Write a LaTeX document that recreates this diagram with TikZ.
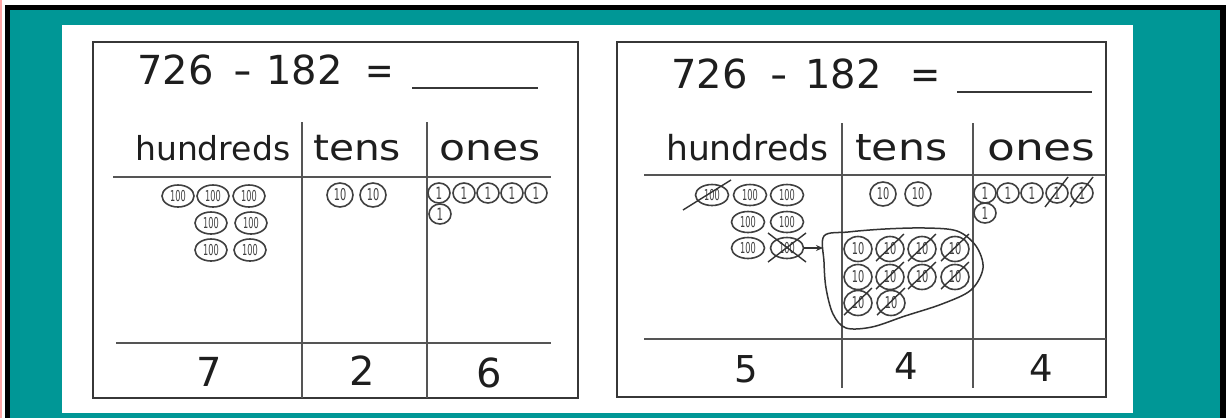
\documentclass[tikz,border=0pt]{standalone}
\usepackage{fontspec}
\usepackage{graphicx}
\setmainfont{DejaVu Sans}
\usetikzlibrary{shapes.geometric,arrows.meta}
\definecolor{teal0}{RGB}{0,151,150}
\definecolor{ink}{RGB}{30,30,30}
\definecolor{rule}{RGB}{55,55,55}
\tikzset{
 eqtxt/.style={anchor=base west, inner sep=0pt, text=ink, font=\fontsize{40}{40}\selectfont},
 hdr/.style={anchor=base west, inner sep=0pt, text=ink},
 digit/.style={anchor=base, inner sep=0pt, text=ink, font=\fontsize{40}{40}\selectfont},
 frame/.style={draw=rule, line width=2.6pt},
 divider/.style={draw=rule!85, line width=2.3pt},
 tok/.style={ellipse, draw=black!75, line width=1.6pt, inner sep=0pt, text=black!75},
 hund/.style={tok, minimum width=32pt, minimum height=22pt, font=\fontsize{12}{12}\selectfont},
 tenc/.style={tok, minimum width=26pt, minimum height=24pt, font=\fontsize{13}{13}\selectfont},
 onec/.style={tok, minimum width=22pt, minimum height=20pt, font=\fontsize{13}{13}\selectfont},
 cross/.style={draw=black!80, line width=1.4pt},
}
\newcommand{\hundl}{\scalebox{0.68}[1.25]{100}}
\newcommand{\tensl}{\scalebox{0.75}[1.25]{10}}
\newcommand{\onel}{\scalebox{0.8}[1.3]{1}}
\begin{document}
\begin{tikzpicture}[x=1pt,y=-1pt]
\useasboundingbox (0,0) rectangle (1226,418);
% background frame
\fill[white] (0,0) rectangle (1226,418);
\fill[red!35] (0,0) rectangle (1.5,418);
\fill[black] (5,5) rectangle (1226,418);
\fill[teal0] (10,10) rectangle (1220,418);
\fill[white] (62,25) rectangle (1133,413);

% ================= left chart =================
\draw[frame] (93,42) rectangle (578,398);
\node[eqtxt] (leqa) at (137,84) {726};
\node[eqtxt] (leqb) at (233,84) {\scalebox{1.3}[1]{-}};
\node[eqtxt] (leqc) at (266,84) {182};
\node[eqtxt] (leqd) at (365,84) {\scalebox{0.85}[1]{=}};
\draw[line width=2.4pt, rule] (412,88) -- (538,88);
\node[hdr, font=\fontsize{33}{33}\selectfont] (lhd) at (135,160) {hundreds};
\node[hdr, font=\fontsize{36}{36}\selectfont] (ltn) at (313,160) {\scalebox{1.13}[1]{tens}};
\node[hdr, font=\fontsize{36}{36}\selectfont] (lon) at (439,160) {\scalebox{1.18}[1]{ones}};
\draw[divider] (302,122) -- (302,398);
\draw[divider] (427,122) -- (427,398);
\draw[divider] (113,177) -- (551,177);
\draw[divider] (116,343) -- (551,343);
\node[digit] (ld1) at (209,386) {7};
\node[digit] (ld2) at (362,385) {2};
\node[digit] (ld3) at (489,387) {6};
% hundreds tokens
\node[hund] (lh1) at (178,196) {\hundl};
\node[hund] (lh2) at (213,196) {\hundl};
\node[hund] (lh3) at (249,196) {\hundl};
\node[hund] (lh4) at (211,223) {\hundl};
\node[hund] (lh5) at (251,223) {\hundl};
\node[hund] (lh6) at (211,250) {\hundl};
\node[hund] (lh7) at (250,250) {\hundl};
% tens tokens
\node[tenc] (lt1) at (340,195) {\tensl};
\node[tenc] (lt2) at (373,195) {\tensl};
% ones tokens
\node[onec] (lo1) at (439,193) {\onel};
\node[onec] (lo2) at (464,193) {\onel};
\node[onec] (lo3) at (488,193) {\onel};
\node[onec] (lo4) at (512,193) {\onel};
\node[onec] (lo5) at (536,193) {\onel};
\node[onec] (lo6) at (440,214) {\onel};

% ================= right chart =================
\draw[frame] (617,42) rectangle (1106,397);
\node[eqtxt] (reqa) at (671,88) {726};
\node[eqtxt] (reqb) at (770,88) {\scalebox{1.2}[1]{-}};
\node[eqtxt] (reqc) at (805,88) {182};
\node[eqtxt] (reqd) at (910,88) {\scalebox{0.9}[1]{=}};
\draw[line width=2.4pt, rule] (957,92) -- (1092,92);
\node[hdr, font=\fontsize{34.5}{34.5}\selectfont] (rhd) at (666,160) {hundreds};
\node[hdr, font=\fontsize{37}{37}\selectfont] (rtn) at (855,160) {\scalebox{1.15}[1]{tens}};
\node[hdr, font=\fontsize{37}{37}\selectfont] (ron) at (987,160) {\scalebox{1.23}[1]{ones}};
\draw[divider] (842,123) -- (842,388);
\draw[divider] (973,123) -- (973,388);
\draw[divider] (644,175) -- (1106,175);
\draw[divider] (644,339) -- (1106,339);
\node[digit, font=\fontsize{37}{37}\selectfont] (rd1) at (746,382) {5};
\node[digit, font=\fontsize{37}{37}\selectfont] (rd2) at (906,379) {4};
\node[digit, font=\fontsize{37}{37}\selectfont] (rd3) at (1041,381) {4};
% hundreds tokens
\node[hund, minimum width=33pt, minimum height=21pt] (rh1) at (712,195) {\hundl};
\node[hund, minimum width=33pt, minimum height=21pt] (rh2) at (750,195) {\hundl};
\node[hund, minimum width=33pt, minimum height=21pt] (rh3) at (787,195) {\hundl};
\node[hund, minimum width=33pt, minimum height=21pt] (rh4) at (748,222) {\hundl};
\node[hund, minimum width=33pt, minimum height=21pt] (rh5) at (787,222) {\hundl};
\node[hund, minimum width=33pt, minimum height=21pt] (rh6) at (748,248) {\hundl};
\node[hund, minimum width=33pt, minimum height=21pt] (rh7) at (787,248) {\hundl};
\draw[cross] ([shift={(-29,15)}]rh1.center) -- ([shift={(19,-15)}]rh1.center);
\draw[cross] ([shift={(-19,-15)}]rh7.center) -- ([shift={(19,14)}]rh7.center);
\draw[cross] ([shift={(-19,14)}]rh7.center) -- ([shift={(19,-15)}]rh7.center);
% regroup loop
\coordinate (loopin) at (823,248);
\draw[-{Stealth[length=7pt,width=6pt]}, line width=1.4pt, black!80] (rh7.east) -- (loopin);
\draw[line width=1.5pt, black!80] plot[smooth cycle, tension=0.55] coordinates {
 (824,236) (848,232) (885,229) (925,228) (957,231) (976,246) (983,268)
 (971,290) (942,304) (905,316) (872,327) (846,328) (833,314) (826,288) (824,262)};
% tens tokens
\node[tenc] (rt1) at (883,194) {\tensl};
\node[tenc] (rt2) at (918,194) {\tensl};
\node[tenc, minimum width=28pt, minimum height=25pt] (rl1) at (858,249) {\tensl};
\node[tenc, minimum width=28pt, minimum height=25pt] (rl2) at (890,249) {\tensl};
\node[tenc, minimum width=28pt, minimum height=25pt] (rl3) at (922,249) {\tensl};
\node[tenc, minimum width=28pt, minimum height=25pt] (rl4) at (955,249) {\tensl};
\node[tenc, minimum width=28pt, minimum height=25pt] (rl5) at (858,277) {\tensl};
\node[tenc, minimum width=28pt, minimum height=25pt] (rl6) at (890,277) {\tensl};
\node[tenc, minimum width=28pt, minimum height=25pt] (rl7) at (922,277) {\tensl};
\node[tenc, minimum width=28pt, minimum height=25pt] (rl8) at (955,277) {\tensl};
\node[tenc, minimum width=28pt, minimum height=25pt] (rl9) at (858,303) {\tensl};
\node[tenc, minimum width=28pt, minimum height=25pt] (rl10) at (891,303) {\tensl};
\foreach \n in {rl2,rl3,rl4,rl6,rl7,rl8,rl9,rl10}{
 \draw[cross] ([shift={(-14,12)}]\n.center) -- ([shift={(14,-15)}]\n.center);
}
% ones tokens
\node[onec] (ro1) at (985,193) {\onel};
\node[onec] (ro2) at (1008,193) {\onel};
\node[onec] (ro3) at (1032,193) {\onel};
\node[onec] (ro4) at (1057,193) {\onel};
\node[onec] (ro5) at (1082,193) {\onel};
\node[onec] (ro6) at (985,213) {\onel};
\draw[cross] ([shift={(-12,14)}]ro4.center) -- ([shift={(11,-16)}]ro4.center);
\draw[cross] ([shift={(-12,14)}]ro5.center) -- ([shift={(11,-16)}]ro5.center);
\end{tikzpicture}
\end{document}
